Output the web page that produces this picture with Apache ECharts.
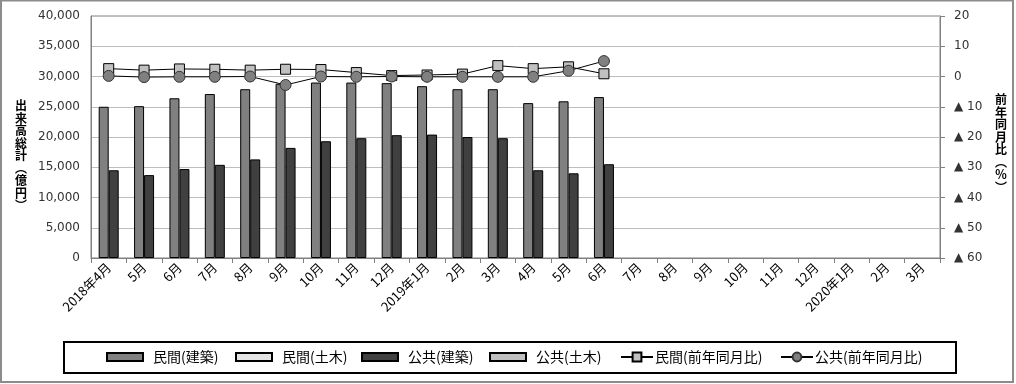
<!DOCTYPE html>
<html><head><meta charset="utf-8">
<script src="https://cdn.jsdelivr.net/npm/echarts@6/dist/echarts.min.js"></script>
<style>html,body{margin:0;padding:0;background:#fff}#c{width:1016px;height:384px}</style>
</head><body><div id="c"></div>
<script>
const categories = ['2018年4月','5月','6月','7月','8月','9月','10月','11月','12月','2019年1月','2月','3月','4月','5月','6月','7月','8月','9月','10月','11月','12月','2020年1月','2月','3月'];
const privateBuilding = [25000,25100,26400,27100,27900,28800,29000,29000,28900,28400,27900,27900,25600,25900,26600,null,null,null,null,null,null,null,null,null];
const privateCivil = [null,null,null,null,null,null,null,null,null,null,null,null,null,null,null,null,null,null,null,null,null,null,null,null];
const publicBuilding = [14500,13700,14700,15400,16300,18200,19300,19800,20300,20400,20000,19800,14500,14000,15500,null,null,null,null,null,null,null,null,null];
const publicCivil = [null,null,null,null,null,null,null,null,null,null,null,null,null,null,null,null,null,null,null,null,null,null,null,null];
const privateYoY = [2.6,2.1,2.5,2.4,2.1,2.4,2.3,1.3,0.3,0.5,0.8,3.6,2.6,3.2,0.9,null,null,null,null,null,null,null,null,null];
const publicYoY = [0.2,-0.2,-0.1,-0.1,0,-2.8,0,-0.1,0,-0.1,-0.1,-0.1,-0.1,1.9,5.1,null,null,null,null,null,null,null,null,null];
const seriesNames = ['民間(建築)','民間(土木)','公共(建築)','公共(土木)','民間(前年同月比)','公共(前年同月比)'];
const leftTicks = {min:0, max:40000, interval:5000};
const rightTicks = {min:-60, max:20, interval:10};
const leftTitle = '出来高総計（億円）';
const rightTitle = '前年同月比（％）';

const JP = '"Noto Sans CJK JP", sans-serif';
const NUM = '"DejaVu Sans", sans-serif';
const vert = s => s.replace('（','︵').replace('）','︶').split('').join('\n');

// legend layout (positions only)
const legendLeft = [106, 235, 361, 489, 620, 780];
const legends = seriesNames.map((n, i) => {
  const isLine = i >= 4;
  return {
    left: legendLeft[i], top: 350, padding: 0,
    itemWidth: isLine ? 32 : 36, itemHeight: isLine ? 11 : 8,
    icon: isLine ? undefined : 'rect',
    textStyle: {fontFamily: JP, fontSize: 14, color: '#000', padding: isLine ? [0,0,0,-3] : [0,0,0,5]},
    data: [n]
  };
});

const chart = echarts.init(document.getElementById('c'), null, {renderer:'canvas'});
chart.setOption({
  animation:false,
  backgroundColor:'#fff',
  graphic:[
    {type:'rect', shape:{x:1, y:0.5, width:1012, height:381.5}, style:{fill:'none', stroke:'#8c8c8c', lineWidth:2}, z:-1},
    {type:'rect', shape:{x:64, y:342, width:892, height:31}, style:{fill:'none', stroke:'#000', lineWidth:2}}
  ],
  grid:{left:91, right:76, top:16, bottom:126, show:true, borderColor:'#808080', borderWidth:1, backgroundColor:'transparent'},
  legend: legends,
  xAxis:{
    type:'category', data:categories, boundaryGap:true,
    axisLine:{lineStyle:{color:'#808080'}},
    axisTick:{show:true, length:5, lineStyle:{color:'#808080'}},
    axisLabel:{rotate:45, interval:0, fontFamily:JP, fontSize:13, color:'#000', margin:7}
  },
  yAxis:[
    {type:'value', min:leftTicks.min, max:leftTicks.max, interval:leftTicks.interval, position:'left',
     name:' \n \n \n' + vert(leftTitle), nameLocation:'middle', nameRotate:0, nameGap:64,
     nameTextStyle:{fontFamily:JP, fontSize:12, fontWeight:'bold', color:'#000', lineHeight:12.5, align:'right'},
     axisLine:{show:true, lineStyle:{color:'#808080'}}, axisTick:{show:false},
     splitLine:{lineStyle:{color:'#bdbdbd'}},
     axisLabel:{fontFamily:NUM, fontSize:12, color:'#333', margin:11, formatter:v=>v.toLocaleString('en-US')}},
    {type:'value', min:rightTicks.min, max:rightTicks.max, interval:rightTicks.interval, position:'right',
     name:' \n' + vert(rightTitle), nameLocation:'middle', nameRotate:0, nameGap:55,
     nameTextStyle:{fontFamily:JP, fontSize:12, fontWeight:'bold', color:'#000', lineHeight:12.5},
     axisLine:{show:true, lineStyle:{color:'#808080'}}, axisTick:{show:true, length:5, lineStyle:{color:'#808080'}},
     splitLine:{show:false},
     axisLabel:{fontFamily:NUM, fontSize:12, color:'#333', margin:14, formatter:v=> v<0 ? '▲ '+(-v) : String(v)}}
  ],
  series:[
    {name:seriesNames[0], type:'bar', stack:'p', data:privateBuilding, barWidth:10, barGap:'0%',
     itemStyle:{color:'#808080', borderColor:'#000', borderWidth:1}},
    {name:seriesNames[1], type:'bar', stack:'p', data:privateCivil, barWidth:10, barGap:'0%',
     itemStyle:{color:'#e4e4e4', borderColor:'#000', borderWidth:1}},
    {name:seriesNames[2], type:'bar', stack:'g', data:publicBuilding, barWidth:10, barGap:'0%',
     itemStyle:{color:'#404040', borderColor:'#000', borderWidth:1}},
    {name:seriesNames[3], type:'bar', stack:'g', data:publicCivil, barWidth:10, barGap:'0%',
     itemStyle:{color:'#c0c0c0', borderColor:'#000', borderWidth:1}},
    {name:seriesNames[4], type:'line', yAxisIndex:1, data:privateYoY, symbol:'rect', symbolSize:10,
     lineStyle:{color:'#000', width:1}, itemStyle:{color:'#c0c0c0', borderColor:'#000', borderWidth:1}},
    {name:seriesNames[5], type:'line', yAxisIndex:1, data:publicYoY, symbol:'circle', symbolSize:11,
     lineStyle:{color:'#000', width:1}, itemStyle:{color:'#808080', borderColor:'#333', borderWidth:1}}
  ]
});
</script></body></html>
